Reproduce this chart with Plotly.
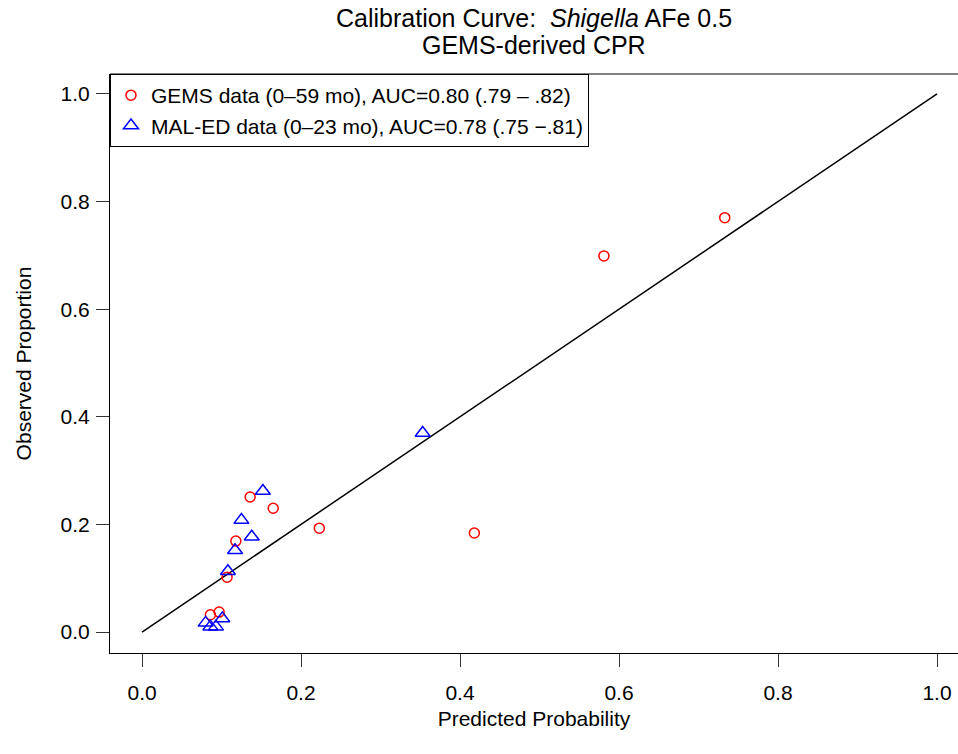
import plotly.graph_objects as go

# GEMS data (red circles)
gems_pred = [0.733, 0.581, 0.418, 0.223, 0.165, 0.136, 0.118, 0.107, 0.097, 0.086]
gems_obs = [0.770, 0.699, 0.184, 0.193, 0.230, 0.251, 0.169, 0.102, 0.037, 0.032]

# MAL-ED data (blue triangles)
maled_pred = [0.353, 0.152, 0.125, 0.138, 0.117, 0.108, 0.101, 0.080, 0.086, 0.093]
maled_obs = [0.370, 0.262, 0.208, 0.177, 0.152, 0.113, 0.025, 0.017, 0.010, 0.010]

ref_line = [0.0, 1.0]
tick_vals = [0.0, 0.2, 0.4, 0.6, 0.8, 1.0]
tick_text = ["0.0", "0.2", "0.4", "0.6", "0.8", "1.0"]

title_line1 = "Calibration Curve:  <i>Shigella</i> AFe 0.5"
title_line2 = "GEMS-derived CPR"

FONT = "Liberation Sans, Arial, sans-serif"

fig = go.Figure()
fig.add_trace(go.Scatter(
    x=ref_line, y=ref_line, mode="lines",
    line=dict(color="black", width=1.5), showlegend=False, hoverinfo="skip"))
fig.add_trace(go.Scatter(
    x=gems_pred, y=gems_obs, mode="markers",
    name="GEMS data (0\u201359 mo), AUC=0.80 (.79 \u2013 .82)",
    marker=dict(symbol="circle-open", size=10, color="#ff0000",
                line=dict(width=1.5, color="#ff0000"))))
fig.add_trace(go.Scatter(
    x=maled_pred, y=maled_obs, mode="markers",
    name="MAL-ED data (0\u201323 mo), AUC=0.78 (.75 \u2212.81)",
    marker=dict(symbol="triangle-up-open", size=13, color="#0000ff",
                line=dict(width=1.5, color="#0000ff"))))

fig.update_layout(
    width=958, height=754,
    margin=dict(l=110, r=0, t=74, b=101),
    paper_bgcolor="white", plot_bgcolor="white",
    font=dict(family=FONT, size=21, color="black"),
    legend=dict(
        x=0, y=1, xref="paper", yref="paper", xanchor="left", yanchor="top",
        bordercolor="black", borderwidth=1, bgcolor="white",
        font=dict(family=FONT, size=21, color="black"),
        tracegroupgap=0, itemsizing="trace"),
    showlegend=True,
)

fig.add_annotation(text=title_line1, xref="paper", yref="paper",
                   x=0.5, y=1 + (74 - 18) / 579, xanchor="center", yanchor="middle",
                   showarrow=False, font=dict(family=FONT, size=25, color="black"))
fig.add_annotation(text=title_line2, xref="paper", yref="paper",
                   x=0.5, y=1 + (74 - 45) / 579, xanchor="center", yanchor="middle",
                   showarrow=False, font=dict(family=FONT, size=25, color="black"))

fig.update_xaxes(
    range=[-0.0403, 1.0264], tickvals=tick_vals, ticktext=tick_text,
    showgrid=False, zeroline=False, showline=True, linecolor="black", linewidth=1,
    ticks="outside", ticklen=13, tickcolor="#333333", tickwidth=1,
    ticklabelstandoff=8,
    tickfont=dict(family=FONT, size=21, color="black"),
    title=dict(text="Predicted Probability", standoff=8,
               font=dict(family=FONT, size=21, color="black")))
fig.update_yaxes(
    range=[-0.039, 1.037], tickvals=tick_vals, ticktext=tick_text,
    showgrid=False, zeroline=False, showline=True, linecolor="black", linewidth=1,
    ticks="outside", ticklen=13, tickcolor="#333333", tickwidth=1,
    ticklabelstandoff=2,
    tickfont=dict(family=FONT, size=21, color="black"),
    title=dict(text="Observed Proportion", standoff=23,
               font=dict(family=FONT, size=21, color="black")))

# top border of the plot box (right edge is cropped in the reference)
fig.add_shape(type="line", xref="paper", yref="paper", x0=0, x1=1, y0=1, y1=1,
              line=dict(color="black", width=1))

fig.write_html("out.html", config={"displayModeBar": False},
               post_script="document.body.style.margin='0';document.body.style.overflow='hidden';")
